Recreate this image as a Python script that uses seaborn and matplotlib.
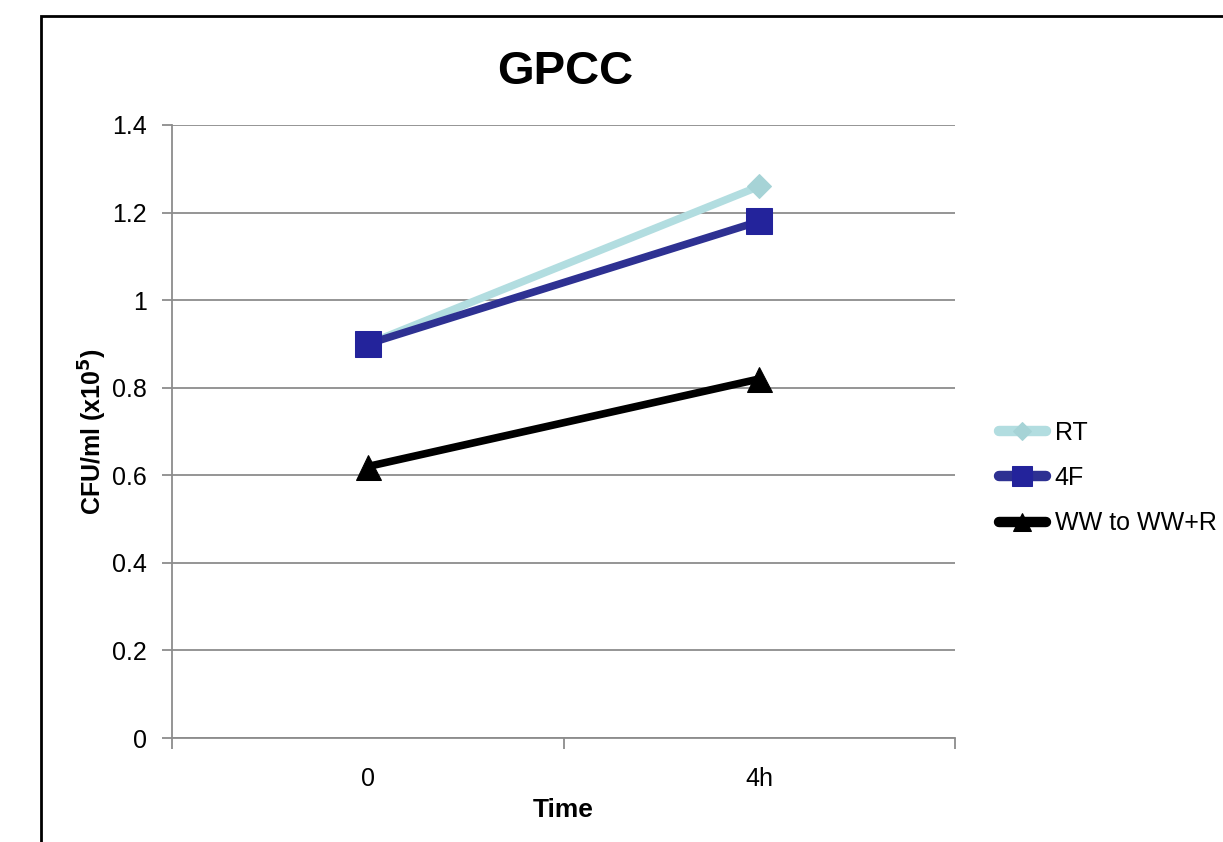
import matplotlib
matplotlib.use("Agg")
import matplotlib.pyplot as plt
import matplotlib.patches as mpatches
import seaborn as sns
import pandas as pd

times = ["0", "4h"]
series_names = ["RT", "4F", "WW to WW+R"]
rt_values = [0.90, 1.26]
f4_values = [0.90, 1.18]
ww_values = [0.62, 0.82]
y_ticks = [0, 0.2, 0.4, 0.6, 0.8, 1, 1.2, 1.4]

colors = {"RT": "#b2dde0", "4F": "#2e3192", "WW to WW+R": "#000000"}
marker_colors = {"RT": "#a6d3d6", "4F": "#23239b", "WW to WW+R": "#000000"}
markers = {"RT": "D", "4F": "s", "WW to WW+R": "^"}
msizes = {"RT": 12, "4F": 19, "WW to WW+R": 18}

df = pd.DataFrame({
    "Time": times * 3,
    "Value": rt_values + f4_values + ww_values,
    "Series": [series_names[0]] * 2 + [series_names[1]] * 2 + [series_names[2]] * 2,
})

sns.set_style("white")
plt.rcParams["font.family"] = ["Liberation Sans", "DejaVu Sans"]
plt.rcParams["text.color"] = "black"
plt.rcParams["axes.labelcolor"] = "black"
plt.rcParams["xtick.color"] = "black"
plt.rcParams["ytick.color"] = "black"

fig = plt.figure(figsize=(12.23, 8.42), dpi=100)
ax = fig.add_axes([172 / 1223, 1 - 738 / 842, (955 - 172) / 1223, (738 - 125) / 842])

for name in series_names:
    sub = df[df["Series"] == name]
    sns.lineplot(data=sub, x="Time", y="Value", ax=ax, color=colors[name],
                 linewidth=5.5, marker=markers[name], markersize=msizes[name],
                 markerfacecolor=marker_colors[name], markeredgecolor=marker_colors[name],
                 label=name, solid_capstyle="round", zorder=3)

ax.set_xlim(-0.5, 1.5)
ax.set_ylim(0, 1.4)
ax.set_yticks(y_ticks)
ax.set_yticklabels([("%g" % v) for v in y_ticks])
ax.yaxis.grid(True, color="#8c8c8c", linewidth=1.3)
ax.set_axisbelow(True)
for s in ["top", "right"]:
    ax.spines[s].set_visible(False)
for s in ["left", "bottom"]:
    ax.spines[s].set_color("#8c8c8c")
    ax.spines[s].set_linewidth(1.3)

ax.tick_params(axis="y", which="major", direction="out", length=7, width=1.3,
               color="#8c8c8c", labelcolor="black", labelsize=18, pad=11, left=True)
ax.tick_params(axis="x", which="major", length=0, labelsize=18, labelcolor="black", pad=21)
ax.set_xticks([-0.5, 0.5, 1.5], minor=True)
ax.tick_params(axis="x", which="minor", direction="out", length=8, width=1.3,
               color="#8c8c8c", bottom=True)

ax.set_xlabel("Time", fontsize=19, fontweight="bold", labelpad=5)
ax.set_ylabel("CFU/ml (x10$^{\\mathbf{5}}$)", fontsize=18, fontweight="bold", labelpad=2)
fig.text(565 / 1223, 1 - 72 / 842, "GPCC", fontsize=34, fontweight="bold",
         ha="center", va="center")

leg = ax.legend(loc="center left", bbox_to_anchor=(976 / 1223, 1 - 478 / 842),
                bbox_transform=fig.transFigure, frameon=False, fontsize=18,
                handlelength=1.9, handletextpad=0.35, labelspacing=0.85,
                markerscale=0.75)
for h in leg.get_lines():
    h.set_linewidth(7.5)
    h.set_solid_capstyle("round")

frame = mpatches.Rectangle((41 / 1223, -0.1), 1.2, 1 - 16 / 842 + 0.1,
                           transform=fig.transFigure, fill=False,
                           edgecolor="black", linewidth=2, clip_on=False)
fig.patches.append(frame)

fig.savefig("out.png", dpi=100)
